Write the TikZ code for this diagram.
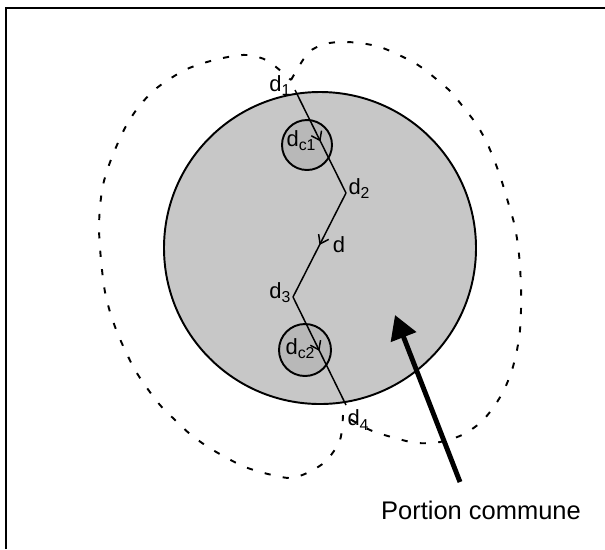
\documentclass[tikz,border=0pt]{standalone}
\usepackage{fontspec}
\setmainfont{Liberation Sans}
\usetikzlibrary{arrows.meta, decorations.markings}
\newcommand{\lowsub}[1]{\raisebox{-0.35ex}{\fontsize{9}{10}\selectfont #1}}
\begin{document}
\begin{tikzpicture}[x=0.02cm, y=-0.02cm,
  zone/.style={draw, line width=1.1pt, fill=black!22},
  envelope/.style={dash pattern=on 3.5pt off 7pt, line width=1.1pt},
  lbl/.style={font=\fontsize{12.5}{14}\selectfont, inner sep=0pt},
  route/.style={line width=0.85pt, postaction={decorate},
                decoration={markings, mark=at position 0.5 with
                  {\arrow{Straight Barb[length=4.5pt, width=6.5pt]}}}},
  pointer/.style={line width=2.8pt, -{Triangle[length=13.5pt, width=15pt]}},
]
\useasboundingbox (0,0) rectangle (605,549);
\draw[line width=0.9pt] (6,549) -- (6,8) -- (605,8);

\draw[envelope] plot[smooth] coordinates {(291,80) (308,53) (325,44) (342,42)
  (360,43) (380,47) (399,55) (418,65) (435,78) (451,92) (464,108) (477,125)
  (487,143) (495,162) (502,182) (508,202) (514,223) (518,245) (520,267)
  (521,288) (521,310) (520,330) (517,350) (512,370) (504,390) (493,408)
  (480,423) (462,435) (440,442) (417,443) (395,438) (370,430) (343,415)};
\draw[envelope] plot[smooth] coordinates {(343,415) (340,440) (326,461)
  (307,473) (290,478) (268,474) (245,467) (227,458) (208,447) (190,434)
  (175,420) (160,405) (147,388) (135,370) (125,350) (117,332) (110,312)
  (105,292) (102,270) (100,248) (99,228) (100,207) (103,185) (109,165)
  (117,145) (126,126) (137,109) (152,92) (168,80) (187,69) (207,62)
  (228,57) (248,55) (268,61) (291,80)};

\draw[zone] (320,248) circle[radius=156];
\draw[zone, fill=black!28] (307,145) circle[radius=25];
\draw[zone, fill=black!28] (305,350) circle[radius=26];

\node[lbl] (dc1) at (301,141) {d\lowsub{c1}};
\node[lbl] (dc2) at (300,349) {d\lowsub{c2}};

\coordinate (d1) at (295,90);
\coordinate (d2) at (346,193);
\coordinate (d3) at (293,297);
\coordinate (d4) at (346,405);
\draw[route] (d1) -- (d2);
\draw[route] (d2) -- (d3);
\draw[route] (d3) -- (d4);

\node[lbl] (l1) at (280,86) {d\lowsub{1}};
\node[lbl] (l2) at (359,189) {d\lowsub{2}};
\node[lbl] (ld) at (339,245) {d};
\node[lbl] (l3) at (280,293) {d\lowsub{3}};
\node[lbl] (l4) at (358,420) {d\lowsub{4}};

\coordinate (tail) at (460,482);
\coordinate (tip) at (395,315);
\draw[pointer] (tail) -- (tip);
\node[lbl, font=\fontsize{14.5}{17}\selectfont, anchor=base] (portion)
  at (481,519) {Portion commune};
\end{tikzpicture}
\end{document}
